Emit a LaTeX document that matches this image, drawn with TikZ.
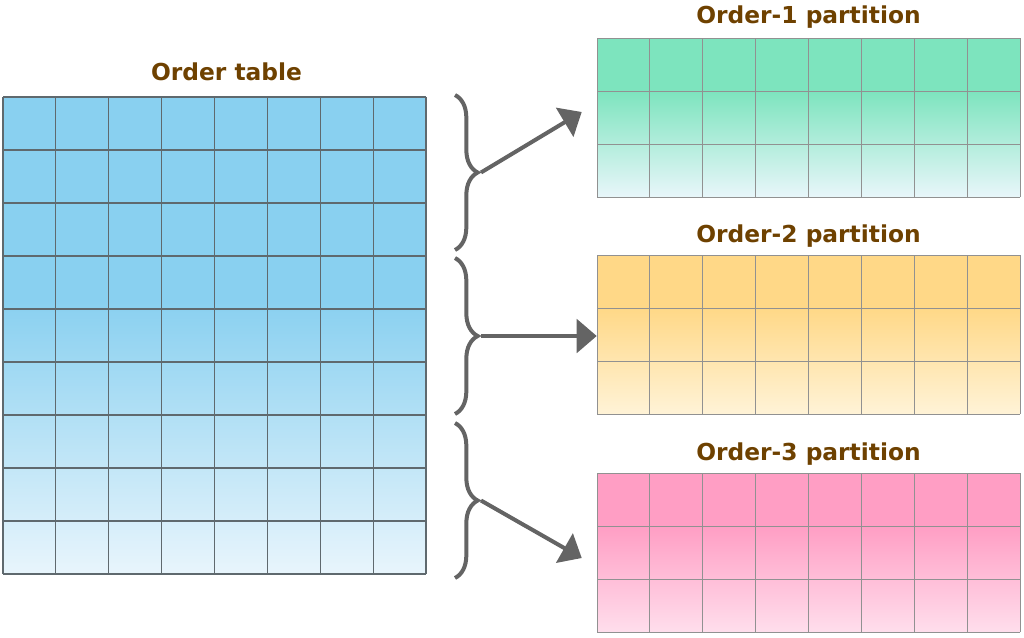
\documentclass[tikz,border=0pt]{standalone}
\usepackage{fontspec}
\setsansfont{DejaVu Sans}
\usetikzlibrary{positioning,arrows.meta,decorations.pathreplacing,calc}
\definecolor{ordbrown}{RGB}{110,65,0}
\definecolor{ordgray}{RGB}{100,100,100}
\definecolor{ordline}{RGB}{95,105,110}
\definecolor{partline}{RGB}{145,145,145}
\definecolor{ordblue}{RGB}{137,208,240}
\definecolor{ordbluelight}{RGB}{232,245,252}
\definecolor{ordgreen}{RGB}{125,228,190}
\definecolor{ordgreenlight}{RGB}{232,246,250}
\definecolor{ordorange}{RGB}{255,216,135}
\definecolor{ordorangelight}{RGB}{255,243,215}
\definecolor{ordpink}{RGB}{255,158,196}
\definecolor{ordpinklight}{RGB}{255,222,236}

\begin{document}
\begin{tikzpicture}[x=0.75pt,y=-0.75pt,
    ttl/.style={font=\sffamily\bfseries\fontsize{17.5}{21}\selectfont,
        text=ordbrown,inner sep=0pt},
    tbl/.style={inner sep=0pt,minimum width=317.25pt},
    brc/.style={ordgray,line width=3pt,decorate,
        decoration={brace,amplitude=17pt}},
    arr/.style={ordgray,line width=3pt,
        -{Triangle[length=15pt,width=25pt]}}]
    \useasboundingbox (0,0) rectangle (1024,637);

    % order table
    \fill[ordblue] (3,97) rectangle (426,300);
    \shade[top color=ordblue,bottom color=ordbluelight] (3,300) rectangle (426,574);
    \foreach \i in {0,...,8}
        \draw[ordline,line width=0.9pt] ({3+\i*52.875},97) -- ++(0,477);
    \foreach \j in {0,...,9}
        \draw[ordline,line width=0.9pt] (3,{97+\j*53}) -- ++(423,0);
    \node[tbl,minimum height=357.75pt] (order) at (214.5,335.5) {};
    \node[ttl,above=12pt of order,anchor=base,xshift=9pt] (order-title) {Order table};

    % partitions
    \foreach \k/\n/\y/\c/\g in {1/p1/38/ordgreen/10.5,2/p2/255/ordorange/9,3/p3/473/ordpink/9}{
        \fill[\c] (597,\y) rectangle (1020,\y+53);
        \shade[top color=\c,bottom color=\c light] (597,\y+53) rectangle (1020,\y+159);
        \foreach \i in {0,...,8}
            \draw[partline,line width=0.7pt] ({597+\i*52.875},\y) -- ++(0,159);
        \foreach \j in {0,...,3}
            \draw[partline,line width=0.7pt] (597,{\y+\j*53}) -- ++(423,0);
        \node[tbl,minimum height=119.25pt] (\n) at (808.5,\y+79.5) {};
        \node[ttl,above=\g pt of \n,anchor=base] (\n-title) {Order-\k{} partition};
    }

    % braces
    \foreach \k/\a/\b in {1/95/250,2/258/414,3/423/578}{
        \draw[brc] (455,\a) -- (455,\b);
        \coordinate (t\k) at (481,{(\a+\b)/2});
    }
    \coordinate (e1) at ($(p1.west)+(-15,-5.5)$);
    \coordinate (e3) at ($(p3.west)+(-15,5.5)$);
    \draw[arr] (t1) -- (e1);
    \draw[arr] (t2) -- (t2 -| p2.west);
    \draw[arr] (t3) -- (e3);
\end{tikzpicture}
\end{document}
